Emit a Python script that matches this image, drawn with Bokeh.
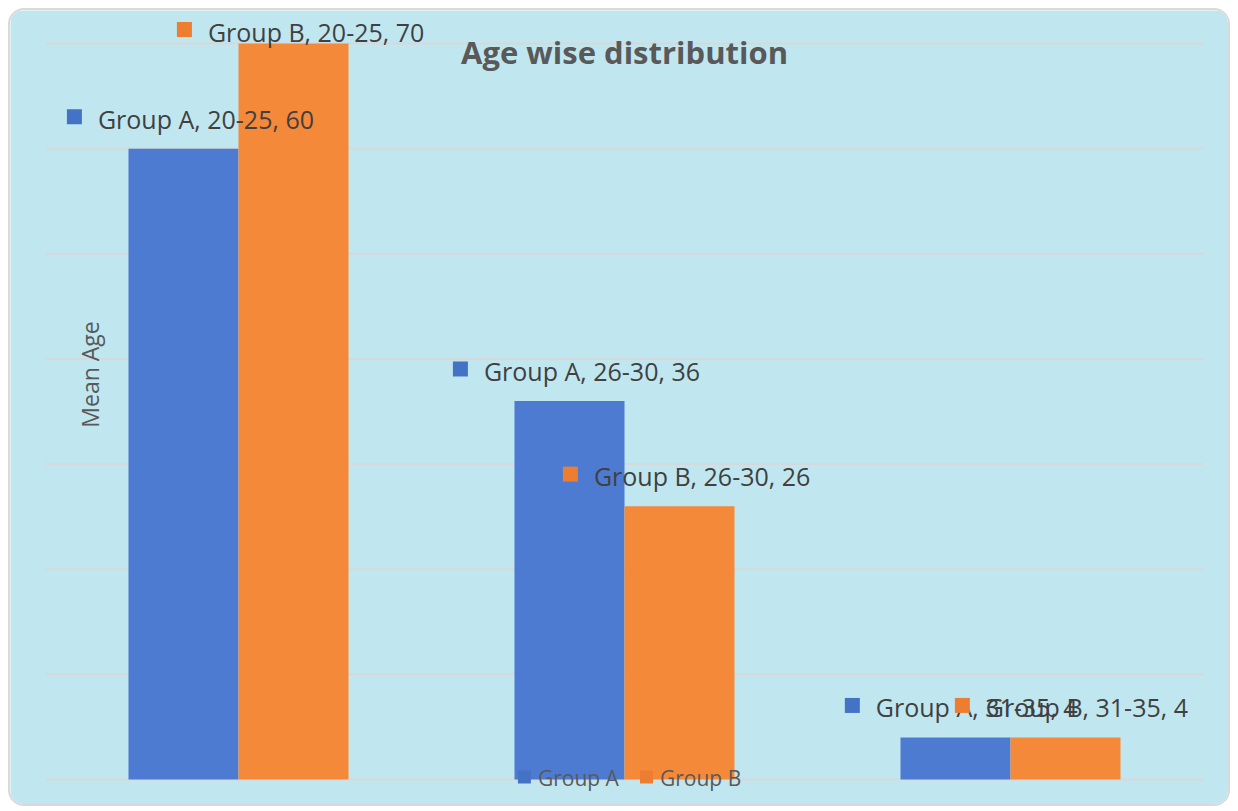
import numpy as np
from bokeh.plotting import figure
from bokeh.models import ColumnDataSource, Range1d
from bokeh.core.properties import value
from bokeh.embed import file_html
from bokeh.resources import INLINE

# ---- data -------------------------------------------------------------
categories = ["20-25", "26-30", "31-35"]
groups = ["Group A", "Group B"]
group_a = [60, 36, 4]
group_b = [70, 26, 4]
y_max = 70
y_step = 10

title_text = "Age wise distribution"
y_label = "Mean Age"

# ---- styling ----------------------------------------------------------
BG = "#c0e7f0"
GRID = "#d6d8d9"
BAR_COLORS = ["#4d7bd1", "#f5893a"]
MARK_COLORS = ["#4472c4", "#ed7d31"]
TEXT = "#404040"
MUTED = "#595959"
FONT = "Open Sans"

W, H = 1222, 798
# plot-area margins inside the canvas (pixels)
PAD_L, PAD_R, PAD_T, PAD_B = 35, 29, 33, 29
area_w = W - PAD_L - PAD_R
area_h = H - PAD_T - PAD_B
ppu = area_h / y_max                 # pixels per y unit
px_x = area_w / len(categories)      # pixels per category

p = figure(
    width=W, height=H,
    x_range=Range1d(-PAD_L / px_x, len(categories) + PAD_R / px_x),
    y_range=Range1d(-PAD_B / ppu, y_max + PAD_T / ppu),
    output_backend="svg", toolbar_location=None,
    min_border=0,
    background_fill_color=BG, border_fill_color=BG,
)
p.styles = {
    "margin-left": "8px", "margin-top": "8px",
    "border": "2px solid #d9d9d9", "border-radius": "16px", "overflow": "hidden",
}
p.outline_line_color = None
p.xaxis.visible = False
p.yaxis.visible = False
p.xgrid.visible = False
p.ygrid.visible = False

# horizontal gridlines across the category span only
ticks = list(range(0, y_max + 1, y_step))
p.segment(x0=[0] * len(ticks), x1=[len(categories)] * len(ticks), y0=ticks, y1=ticks,
          line_color=GRID, line_width=2)

# ---- bars -------------------------------------------------------------
centers = np.arange(len(categories)) + 0.5
bar_w = 0.285
shifts = [-bar_w / 2, bar_w / 2]
series = [group_a, group_b]

for vals, shift, color in zip(series, shifts, BAR_COLORS):
    src = ColumnDataSource(dict(x=centers + shift, top=vals))
    p.vbar(x="x", top="top", width=bar_w, source=src,
           fill_color=color, line_color=None)

# ---- data labels: coloured square + "Group, range, value" -------------
char_w = 11.9
for g, vals, shift, color in zip(groups, series, shifts, MARK_COLORS):
    tx, ty, txt, sx, sy = [], [], [], [], []
    for i, v in enumerate(vals):
        text = f"{g}, {categories[i]}, {v}"
        cx = centers[i] + shift
        gap = min(30, (y_max - v) * ppu + 12)
        ly = v + gap / ppu
        tw = char_w * len(text)
        box_left = 6 - (31 + tw) / 2
        tx.append(cx + (box_left + 31) / px_x)
        sx.append(cx + (box_left + 7.5) / px_x)
        ty.append(ly)
        sy.append(ly + 2.0 / ppu)
        txt.append(text)
    p.rect(x=sx, y=sy, width=15, height=15, width_units="screen",
           height_units="screen", fill_color=color, line_color=None)
    p.text(x=tx, y=ty, text=txt, text_font=value(FONT), text_font_size="25px",
           text_color=TEXT, text_baseline="middle", text_align="left")

# ---- title and axis title ---------------------------------------------
p.text(x=[len(categories) / 2], y=[y_max - 8 / ppu],
       text=[title_text], text_font=value(FONT), text_font_size="31px",
       text_font_style="bold", text_color=MUTED,
       text_align="center", text_baseline="middle")
p.text(x=[44 / px_x], y=[405 / ppu], text=[y_label],
       text_font=value(FONT), text_font_size="23px", text_color=MUTED,
       angle=np.pi / 2, text_align="center", text_baseline="middle")

# ---- legend: centred row of swatches on the baseline --------------------
leg_char_w = 11.3
leg_sw, leg_gap, leg_spacing = 13, 7, 23
item_w = [leg_sw + leg_gap + leg_char_w * len(g) for g in groups]
total_w = sum(item_w) + leg_spacing * (len(groups) - 1)
start = len(categories) / 2 * px_x - total_w / 2 + 4    # pixels from x=0
lx_sw, lx_txt = [], []
for w in item_w:
    lx_sw.append((start + leg_sw / 2) / px_x)
    lx_txt.append((start + leg_sw + leg_gap) / px_x)
    start += w + leg_spacing
p.rect(x=lx_sw, y=[2.5 / ppu] * len(groups), width=leg_sw, height=leg_sw,
       width_units="screen", height_units="screen",
       fill_color=MARK_COLORS, line_color=None)
p.text(x=lx_txt, y=[1.5 / ppu] * len(groups), text=groups,
       text_font=value(FONT), text_font_size="21px", text_color=MUTED,
       text_align="left", text_baseline="middle")

open("out.html", "w").write(file_html(p, INLINE))
